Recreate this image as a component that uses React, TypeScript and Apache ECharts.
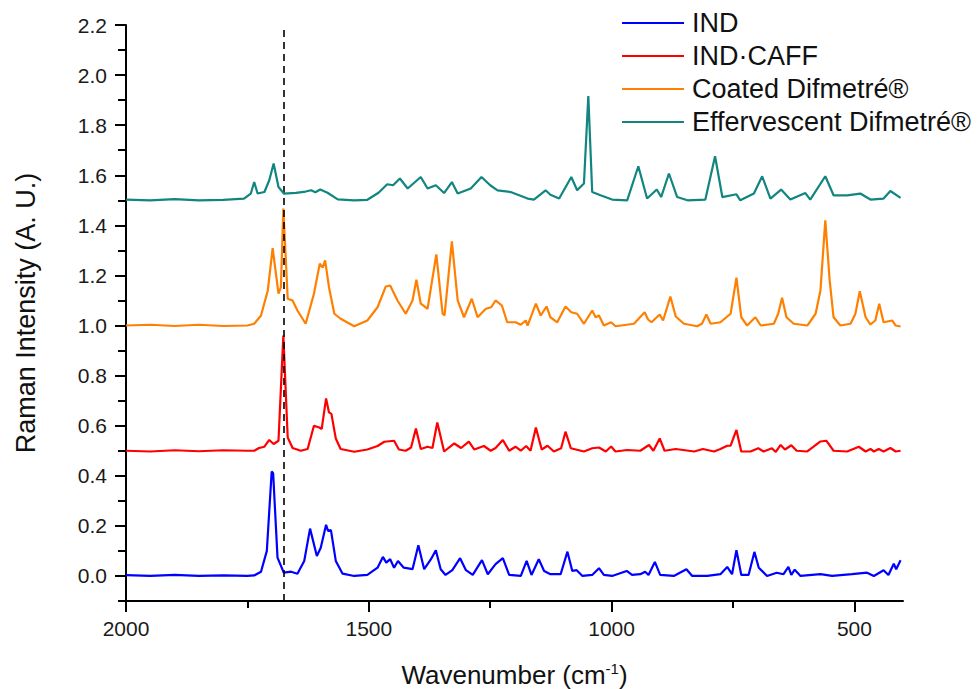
import React, { useEffect, useRef } from "react";
import * as echarts from "echarts";

const FONT = "'Liberation Sans', Arial, Helvetica, sans-serif";

const seriesNames = ["IND", "IND·CAFF", "Coated Difmetré®", "Effervescent Difmetré®"];
const seriesColors = ["#0000FF", "#FF0000", "#FF8000", "#11857F"];

// [wavenumber (cm-1), Raman intensity (A. U.)]
const indSpectrum: number[][] = [
  [2000, 0.003], [1950, 0.0], [1900, 0.004], [1850, 0.0], [1800, 0.002], [1750, 0.0], [1736, 0.002],
  [1722, 0.017], [1710, 0.1], [1700, 0.417], [1697, 0.41], [1688, 0.073], [1675, 0.013], [1660, 0.017],
  [1647, 0.009], [1633, 0.06], [1621, 0.189], [1607, 0.08], [1599, 0.113], [1588, 0.204], [1584, 0.18],
  [1578, 0.183], [1568, 0.06], [1554, 0.009], [1530, 0.0], [1503, 0.004], [1482, 0.033], [1471, 0.076],
  [1464, 0.053], [1456, 0.067], [1448, 0.033], [1440, 0.06], [1428, 0.033], [1410, 0.027], [1398, 0.123],
  [1386, 0.027], [1372, 0.067], [1362, 0.103], [1352, 0.027], [1342, 0.004], [1328, 0.023], [1312, 0.071],
  [1300, 0.023], [1286, 0.004], [1267, 0.063], [1255, 0.007], [1239, 0.047], [1224, 0.071], [1211, 0.004],
  [1187, 0.0], [1175, 0.06], [1165, 0.004], [1150, 0.067], [1139, 0.02], [1126, 0.007], [1105, 0.007],
  [1091, 0.097], [1081, 0.02], [1072, 0.023], [1060, 0.0], [1040, 0.004], [1026, 0.031], [1016, 0.004],
  [999, 0.0], [969, 0.02], [958, 0.004], [941, 0.007], [931, 0.017], [924, 0.004], [911, 0.056],
  [900, 0.004], [872, 0.0], [846, 0.027], [834, 0.0], [803, 0.0], [776, 0.007], [762, 0.036], [752, 0.007],
  [743, 0.103], [733, 0.004], [718, 0.004], [706, 0.096], [697, 0.033], [680, 0.0], [660, 0.013],
  [646, 0.007], [636, 0.036], [630, 0.004], [623, 0.025], [611, 0.0], [570, 0.007], [546, 0.0],
  [505, 0.007], [474, 0.013], [460, 0.0], [440, 0.023], [430, 0.004], [419, 0.049], [414, 0.027], [405, 0.063],
];

const indCaffSpectrum: number[][] = [
  [2000, 0.5], [1950, 0.497], [1900, 0.502], [1850, 0.498], [1800, 0.502], [1750, 0.5], [1736, 0.5],
  [1726, 0.511], [1715, 0.516], [1705, 0.543], [1696, 0.527], [1686, 0.54], [1676, 0.96], [1667, 0.553],
  [1657, 0.511], [1640, 0.5], [1626, 0.507], [1613, 0.6], [1602, 0.593], [1597, 0.587], [1588, 0.709],
  [1582, 0.653], [1577, 0.647], [1568, 0.549], [1558, 0.507], [1530, 0.496], [1503, 0.505], [1482, 0.519],
  [1468, 0.536], [1448, 0.54], [1438, 0.505], [1424, 0.5], [1413, 0.513], [1403, 0.589], [1393, 0.507],
  [1379, 0.516], [1369, 0.511], [1359, 0.613], [1345, 0.497], [1324, 0.529], [1310, 0.511], [1294, 0.536],
  [1283, 0.505], [1263, 0.519], [1249, 0.5], [1239, 0.511], [1224, 0.543], [1211, 0.5], [1198, 0.516],
  [1187, 0.5], [1176, 0.519], [1167, 0.5], [1156, 0.593], [1144, 0.505], [1132, 0.52], [1119, 0.497],
  [1104, 0.51], [1095, 0.576], [1084, 0.51], [1057, 0.497], [1040, 0.51], [1026, 0.513], [1012, 0.497],
  [1001, 0.517], [992, 0.497], [968, 0.503], [941, 0.5], [923, 0.523], [914, 0.5], [901, 0.549],
  [891, 0.5], [868, 0.507], [830, 0.497], [812, 0.507], [789, 0.497], [776, 0.507], [762, 0.52],
  [755, 0.52], [743, 0.583], [733, 0.497], [714, 0.497], [698, 0.51], [687, 0.497], [670, 0.51],
  [662, 0.495], [652, 0.523], [643, 0.505], [630, 0.522], [619, 0.5], [597, 0.497], [570, 0.537],
  [558, 0.54], [543, 0.5], [515, 0.497], [491, 0.516], [477, 0.497], [467, 0.507], [460, 0.497],
  [450, 0.507], [440, 0.497], [426, 0.511], [415, 0.497], [405, 0.5],
];

const coatedSpectrum: number[][] = [
  [2000, 1.0], [1950, 1.003], [1900, 0.998], [1850, 1.003], [1800, 0.998], [1750, 1.0], [1736, 1.007],
  [1722, 1.04], [1708, 1.14], [1698, 1.309], [1686, 1.127], [1681, 1.153], [1676, 1.467], [1667, 1.107],
  [1657, 1.1], [1647, 1.06], [1630, 1.007], [1613, 1.127], [1601, 1.247], [1595, 1.231], [1590, 1.26],
  [1582, 1.153], [1571, 1.047], [1558, 1.027], [1530, 0.997], [1503, 1.02], [1482, 1.073], [1465, 1.156],
  [1456, 1.16], [1441, 1.1], [1424, 1.047], [1410, 1.1], [1402, 1.183], [1393, 1.087], [1379, 1.067],
  [1361, 1.284], [1348, 1.047], [1344, 1.04], [1329, 1.336], [1317, 1.1], [1304, 1.033], [1288, 1.107],
  [1276, 1.033], [1259, 1.067], [1248, 1.073], [1239, 1.1], [1226, 1.08], [1215, 1.013], [1198, 1.013],
  [1187, 1.003], [1177, 1.02], [1173, 1.0], [1156, 1.087], [1146, 1.04], [1134, 1.076], [1126, 1.033],
  [1112, 1.013], [1095, 1.076], [1083, 1.053], [1071, 1.047], [1057, 1.007], [1040, 1.06], [1033, 1.033],
  [1026, 1.04], [1016, 1.0], [1001, 1.013], [992, 0.997], [954, 1.007], [932, 1.053], [925, 1.024],
  [918, 1.013], [901, 1.044], [894, 1.02], [879, 1.116], [868, 1.036], [851, 1.007], [824, 0.997],
  [814, 1.007], [805, 1.044], [796, 1.007], [776, 1.013], [755, 1.047], [743, 1.191], [733, 1.033],
  [721, 1.0], [704, 1.033], [693, 1.0], [666, 1.007], [657, 1.047], [649, 1.111], [640, 1.033],
  [625, 1.007], [597, 1.0], [580, 1.047], [570, 1.14], [560, 1.42], [551, 1.18], [543, 1.033],
  [529, 1.0], [508, 1.007], [498, 1.047], [489, 1.137], [477, 1.033], [467, 1.004], [457, 1.02],
  [449, 1.087], [440, 1.013], [422, 1.02], [415, 1.0], [405, 0.996],
];

const effervescentSpectrum: number[][] = [
  [2000, 1.503], [1950, 1.5], [1900, 1.505], [1850, 1.5], [1800, 1.502], [1757, 1.507], [1743, 1.527],
  [1736, 1.573], [1729, 1.527], [1715, 1.533], [1705, 1.58], [1696, 1.647], [1686, 1.553], [1675, 1.527],
  [1650, 1.53], [1630, 1.535], [1619, 1.54], [1610, 1.532], [1600, 1.543], [1585, 1.53], [1564, 1.504],
  [1530, 1.5], [1503, 1.502], [1480, 1.53], [1462, 1.564], [1450, 1.56], [1436, 1.587], [1420, 1.547],
  [1393, 1.593], [1379, 1.547], [1362, 1.56], [1345, 1.529], [1329, 1.573], [1317, 1.527], [1290, 1.547],
  [1268, 1.593], [1250, 1.56], [1235, 1.54], [1208, 1.533], [1173, 1.507], [1160, 1.503], [1136, 1.54],
  [1126, 1.522], [1108, 1.507], [1083, 1.593], [1071, 1.54], [1057, 1.567], [1048, 1.916], [1040, 1.533],
  [1023, 1.52], [999, 1.503], [968, 1.5], [945, 1.636], [927, 1.507], [907, 1.543], [898, 1.513],
  [882, 1.607], [865, 1.513], [844, 1.5], [807, 1.503], [787, 1.676], [772, 1.513], [743, 1.524],
  [735, 1.5], [707, 1.527], [690, 1.596], [673, 1.507], [651, 1.543], [632, 1.503], [601, 1.529],
  [591, 1.503], [560, 1.596], [543, 1.52], [515, 1.52], [488, 1.527], [467, 1.503], [440, 1.507],
  [426, 1.537], [405, 1.51],
];

const xMajorTicks = [2000, 1500, 1000, 500];
const xMinorTicks = [1750, 1250, 750];
const yMajorTicks = [0.0, 0.2, 0.4, 0.6, 0.8, 1.0, 1.2, 1.4, 1.6, 1.8, 2.0, 2.2];
const yMinorTicks = [-0.1, 0.1, 0.3, 0.5, 0.7, 0.9, 1.1, 1.3, 1.5, 1.7, 1.9, 2.1];
const markerWavenumber = 1675;
const markerRange = [-0.1, 2.18];

export default function App() {
  const ref = useRef<HTMLDivElement>(null);

  useEffect(() => {
    if (!ref.current) return;
    const chart = echarts.init(ref.current, undefined, { renderer: "svg" });
    const spectra = [indSpectrum, indCaffSpectrum, coatedSpectrum, effervescentSpectrum];

    const series: any[] = spectra.map((data, i) => ({
      name: seriesNames[i],
      type: "line",
      data,
      xAxisIndex: 0,
      yAxisIndex: 0,
      symbol: "none",
      showSymbol: false,
      color: seriesColors[i],
      lineStyle: { color: seriesColors[i], width: 2.2 },
      z: 2 + i,
    }));
    series[0].markLine = {
      silent: true,
      symbol: ["none", "none"],
      label: { show: false },
      lineStyle: { color: "#000", type: [7, 5], width: 1.6 },
      data: [[{ coord: [markerWavenumber, markerRange[0]] }, { coord: [markerWavenumber, markerRange[1]] }]],
    };

    const baseX = {
      type: "value",
      inverse: true,
      min: 400,
      max: 2000,
      splitLine: { show: false },
    };
    const baseY = {
      type: "value",
      min: -0.1,
      max: 2.2,
      splitLine: { show: false },
    };

    chart.setOption({
      animation: false,
      backgroundColor: "#fff",
      textStyle: { fontFamily: FONT },
      grid: { left: 126, right: 76, top: 25, bottom: 88, containLabel: false, outerBoundsMode: "none" },
      legend: {
        orient: "vertical",
        left: 622,
        top: 9,
        padding: 0,
        icon: "rect",
        itemWidth: 62,
        itemHeight: 2,
        itemGap: 5,
        textStyle: { fontSize: 27, color: "#111", fontFamily: FONT, lineHeight: 28, padding: [0, 0, 0, 3] },
        data: seriesNames,
      },
      xAxis: [
        {
          ...baseX,
          name: "Wavenumber (cm{sup|-1})",
          nameLocation: "middle",
          nameGap: 60,
          nameTextStyle: {
            fontSize: 26,
            color: "#111",
            fontFamily: FONT,
            lineHeight: 28,
            rich: { sup: { fontSize: 15, verticalAlign: "top", fontFamily: FONT, color: "#111" } },
          },
          axisLine: { show: true, onZero: false, lineStyle: { color: "#000", width: 2 } },
          axisTick: { show: true, customValues: xMajorTicks, length: 11, lineStyle: { color: "#000", width: 2 } },
          axisLabel: {
            customValues: xMajorTicks,
            fontSize: 21,
            color: "#1a1a1a",
            margin: 17,
            fontFamily: FONT,
            formatter: (v: number) => String(v),
          },
        },
        {
          ...baseX,
          position: "bottom",
          axisLine: { show: false, onZero: false },
          axisTick: { show: true, customValues: xMinorTicks, length: 7, lineStyle: { color: "#000", width: 2 } },
          axisLabel: { show: false },
        },
      ],
      yAxis: [
        {
          ...baseY,
          name: "Raman Intensity (A. U.)",
          nameLocation: "middle",
          nameGap: 87,
          nameTextStyle: { fontSize: 27, color: "#111", fontFamily: FONT },
          axisLine: { show: true, onZero: false, lineStyle: { color: "#000", width: 2 } },
          axisTick: { show: true, customValues: yMajorTicks, length: 11, lineStyle: { color: "#000", width: 2 } },
          axisLabel: {
            customValues: yMajorTicks,
            fontSize: 21,
            color: "#1a1a1a",
            margin: 19,
            fontFamily: FONT,
            formatter: (v: number) => v.toFixed(1),
          },
        },
        {
          ...baseY,
          position: "left",
          axisLine: { show: false, onZero: false },
          axisTick: { show: true, customValues: yMinorTicks, length: 8, lineStyle: { color: "#000", width: 2 } },
          axisLabel: { show: false },
        },
      ],
      series,
    });

    return () => chart.dispose();
  }, []);

  return (
    <div
      ref={ref}
      style={{ position: "absolute", left: 0, top: 0, width: 979, height: 689, background: "#fff" }}
    />
  );
}
